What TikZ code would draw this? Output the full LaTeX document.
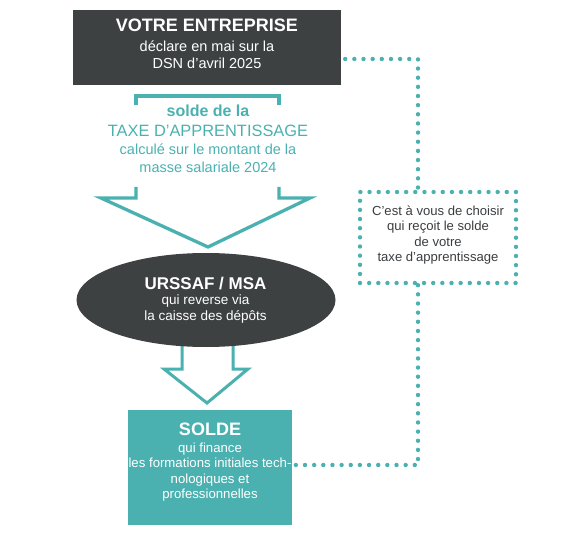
\documentclass[tikz,border=0pt]{standalone}
\usepackage{fontspec}
\setmainfont{Liberation Sans}
\usetikzlibrary{shapes.geometric}
\definecolor{darkbox}{HTML}{3E4142}
\definecolor{teal1}{HTML}{4AB1B0}
\definecolor{notegray}{HTML}{3A3D40}
\begin{document}
\begin{tikzpicture}[x=1pt,y=-1pt,
  boxdark/.style={rectangle, fill=darkbox, inner sep=0pt},
  boxteal/.style={rectangle, fill=teal1, inner sep=0pt},
  dotlink/.style={draw=teal1, line width=4.4pt, line cap=round, dash pattern=on 0pt off 9.15pt},
  notebox/.style={rectangle, dotlink, inner sep=0pt},
  outline/.style={draw=teal1, line width=3.3pt, line join=miter},
  txt/.style={inner sep=0pt, anchor=north, align=center},
]
\useasboundingbox (0,0) rectangle (564,537);

% top box
\node[boxdark, minimum width=268, minimum height=75] (entreprise) at (207,47.5) {};
\node[txt, text=white, font=\fontsize{14.5}{16.5}\selectfont] (entreprisetxt) at (207,18.9)
  {{\fontsize{18}{16.5}\selectfont\bfseries VOTRE ENTREPRISE}\\[3.5pt]déclare en mai sur la\\DSN d’avril 2025};

% upper arrow outline
\coordinate (tipA) at (208,247);
\draw[outline] (136,105) -- (136,96) -- (279,96) -- (279,105);
\draw[outline] (136,187) -- (136,198) -- (101,198) -- (tipA) -- (310,198) -- (279,198) -- (279,187);
\node[txt, text=teal1, font=\fontsize{14.5}{18}\selectfont] (taxetxt) at (208,105.2)
  {{\fontsize{16}{18}\selectfont\bfseries solde de la}\\[2pt]{\fontsize{16.4}{18}\selectfont TAXE D’APPRENTISSAGE}\\calculé sur le montant de la\\masse salariale 2024};

% lower arrow outline
\coordinate (tipB) at (207,403);
\draw[outline, line width=3pt] (182,340) -- (182,369) -- (164,369) -- (tipB) -- (248,369) -- (233,369) -- (233,340);

% ellipse
\node[ellipse, fill=darkbox, minimum width=259, minimum height=94, inner sep=0pt] (urssaf) at (206,300) {};
\node[txt, text=white, font=\fontsize{13.5}{15.4}\selectfont] (urssaftxt) at (205.5,277)
  {{\fontsize{17}{15.4}\selectfont\bfseries URSSAF / MSA}\\qui reverse via\\la caisse des dépôts};

% bottom box
\node[boxteal, minimum width=164, minimum height=115] (solde) at (210,467.5) {};
\node[txt, text=white, font=\fontsize{13.2}{15.5}\selectfont] (soldetxt) at (210,422.7)
  {{\fontsize{18}{15.5}\selectfont\bfseries SOLDE}\\[1.1pt]qui finance\\les formations initiales tech-\\nologiques et\\professionnelles};

% note box
\node[notebox, minimum width=156, minimum height=91] (choix) at (438,237.5) {};
\node[txt, text=notegray, font=\fontsize{13.1}{15.5}\selectfont] (choixtxt) at (438,205.4)
  {C’est à vous de choisir\\qui reçoit le solde\\de votre\\taxe d’apprentissage};

% dotted connectors
\coordinate (bend1) at (418,59);
\coordinate (bend2) at (418,465);
\draw[dotlink] ([xshift=4pt,yshift=-11.5pt]entreprise.east) -- (bend1) -- (bend1 |- choix.north);
\draw[dotlink] (bend2 |- choix.south) -- (bend2) -- (solde.east |- bend2);
\end{tikzpicture}
\end{document}
